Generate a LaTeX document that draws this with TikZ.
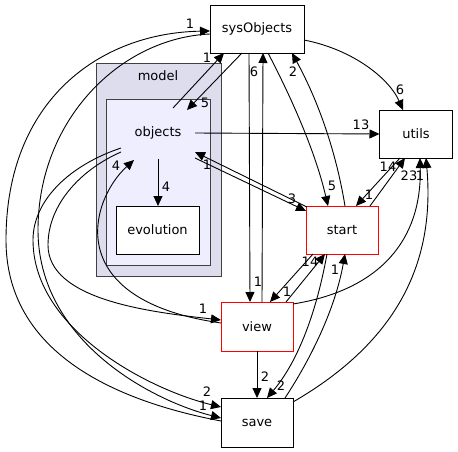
\documentclass[tikz,border=0pt]{standalone}
\usepackage{fontspec}
\setmainfont{DejaVu Sans}
\usetikzlibrary{arrows.meta,calc}
\begin{document}
\begin{tikzpicture}[x=1pt,y=-1pt,
  every node/.style={font=\fontsize{13}{15}\selectfont, outer sep=0pt, inner sep=0pt},
  box/.style={draw=black, line width=0.9pt, fill=white, minimum width=72pt, minimum height=48pt},
  redbox/.style={box, draw=red},
  lbl/.style={font=\fontsize{13}{15}\selectfont},
  edge/.style={line width=0.9pt, -{Triangle[length=10pt,width=9pt]}},
  clus/.style={draw=black!75, line width=0.9pt}]
\useasboundingbox (0,0) rectangle (458,452);
% clusters
\draw[clus, fill={rgb,255:red,221;green,221;blue,238}] (96,63) rectangle (221,276);
\node (model) at (158,76) {model};
\draw[clus, fill={rgb,255:red,238;green,238;blue,255}] (106,99) rectangle (210,265);
% nodes
\node[minimum width=74pt, minimum height=52pt] (ob) at (158,133) {objects};
\node[box, minimum width=83pt] (ev) at (157.5,230) {evolution};
\node[box, minimum width=94pt] (sO) at (257,29) {sysObjects};
\node[box, minimum width=73pt] (ut) at (416,134) {utils};
\node[redbox] (st) at (342,230) {start};
\node[redbox, minimum height=49pt] (vw) at (257,326.5) {view};
\node[box, minimum height=49pt] (sv) at (257,422.5) {save};
% edges
\draw[edge] ($(ob.north)+(15,1)$) -- ($(sO.south)+(-33,0)$);
\draw[edge] ($(sO.south)+(-15,0)$) -- ($(ob.north)+(29,3)$);
\draw[edge] (ob.east) -- (ut.west);
\draw[edge] ($(ob.east)+(0,25)$) -- ($(st.west)+(0,-19)$);
\draw[edge] ($(st.north west)+(1,1)$) -- ($(ob.east)+(0,19)$);
\draw[edge] (ob.south) -- (ob.south |- ev.north);
\draw[edge] ($(vw.west)+(0,-3.5)$) .. controls (60,300) and (90,200) .. ($(ob.south west)+(13,1)$);
\draw[edge] ($(ob.west)+(0,19)$) .. controls (80,170) and (48,205) .. (48,245) .. controls (48,300) and (150,312) .. ($(vw.west)+(0,-6.5)$);
\draw[edge] ($(ob.west)+(0,15)$) .. controls (70,165) and (33,200) .. (33,240) .. controls (33,330) and (150,390) .. ($(sv.west)+(0,-15.5)$);
\draw[edge] ($(sO.west)+(0,5)$) .. controls (120,38) and (38,120) .. (38,230) .. controls (38,340) and (150,400) .. ($(sv.west)+(0,-4.5)$);
\draw[edge] ($(sv.west)+(0,-1.5)$) .. controls (110,400) and (6,350) .. (6,240) .. controls (6,100) and (100,33) .. ($(sO.west)+(0,2)$);
\draw[edge] ($(sO.south)+(-8,0)$) -- ($(vw.north)+(-7,0)$);
\draw[edge] ($(vw.north)+(5,0)$) -- ($(sO.south)+(6,0)$);
\draw[edge] ($(sO.south)+(11,0)$) .. controls (290,95) and (315,150) .. ($(st.north)+(-14,0)$);
\draw[edge] ($(st.north)+(3,0)$) .. controls (335,145) and (315,95) .. ($(sO.south)+(35,0)$);
\draw[edge] ($(sO.east)+(0,11)$) .. controls (355,50) and (390,80) .. ($(ut.north)+(-13,0)$);
\draw[edge] ($(st.north)+(28,0)$) -- ($(ut.south)+(-11,0)$);
\draw[edge] ($(ut.south)+(-16,0)$) -- ($(st.north)+(14,0)$);
\draw[edge] ($(vw.east)+(0,-22.5)$) .. controls (380,290) and (422,240) .. ($(ut.south)+(4,0)$);
\draw[edge] ($(sv.north east)+(0,4)$) .. controls (400,340) and (435,260) .. ($(ut.south)+(10,0)$);
\draw[edge] ($(st.south)+(-29,0)$) -- ($(vw.north)+(13,0)$);
\draw[edge] ($(vw.north)+(29,0)$) -- ($(st.south)+(-17,0)$);
\draw[edge] ($(st.south)+(-15,0)$) .. controls (315,320) and (295,365) .. ($(sv.north)+(10,0)$);
\draw[edge] ($(sv.north)+(28,0)$) .. controls (310,360) and (335,310) .. ($(st.south)+(3,0)$);
\draw[edge] (vw.south) -- (sv.north);
% labels
\node[lbl] (l1) at (207,58) {1};
\node[lbl] (l2) at (205,103) {5};
\node[lbl] (l3) at (361,125) {13};
\node[lbl] (l4) at (292,199) {3};
\node[lbl] (l5) at (207,165) {1};
\node[lbl] (l6) at (166,187) {4};
\node[lbl] (l7) at (116,166) {4};
\node[lbl] (l8) at (203,309) {1};
\node[lbl] (l9) at (207,392) {2};
\node[lbl] (l10) at (203,406) {1};
\node[lbl] (l11) at (190,24) {1};
\node[lbl] (l12) at (254,72) {6};
\node[lbl] (l13) at (258,282) {1};
\node[lbl] (l14) at (332,186) {5};
\node[lbl] (l15) at (293,72) {2};
\node[lbl] (l16) at (400,90) {6};
\node[lbl] (l17) at (388,167) {14};
\node[lbl] (l18) at (369,195) {1};
\node[lbl] (l19) at (409,176) {23};
\node[lbl] (l20) at (420,176) {1};
\node[lbl] (l21) at (287,292) {1};
\node[lbl] (l22) at (310,262) {14};
\node[lbl] (l23) at (281,386) {2};
\node[lbl] (l24) at (335,270) {1};
\node[lbl] (l25) at (265,377) {2};
\end{tikzpicture}
\end{document}
